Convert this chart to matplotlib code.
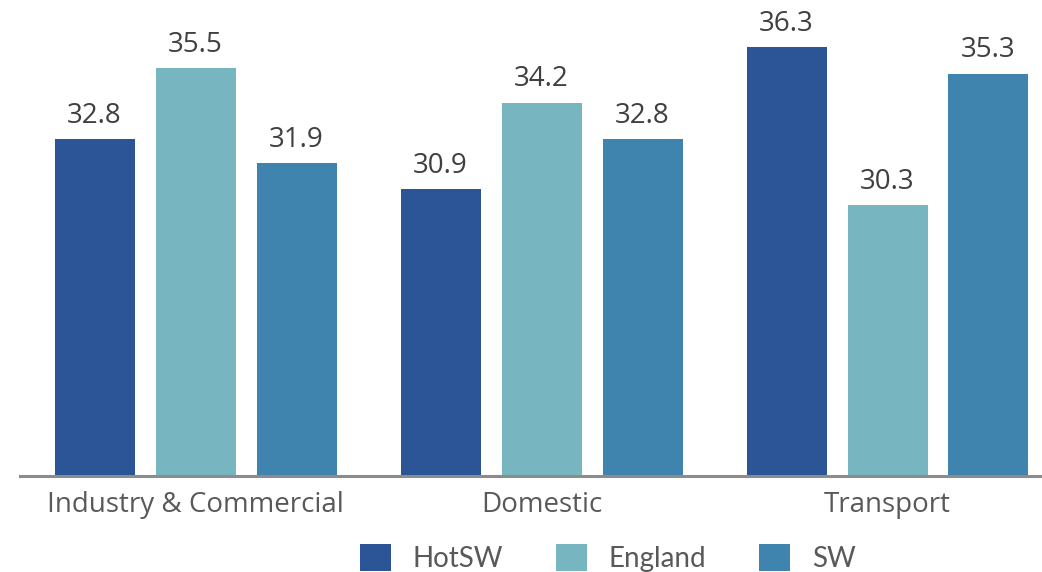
import numpy as np
from matplotlib import pyplot as plt

categories = ['Industry & Commercial', 'Domestic', 'Transport']
series_names = ['HotSW', 'England', 'SW']
hotsw = [32.8, 30.9, 36.3]
england = [35.5, 34.2, 30.3]
sw = [31.9, 32.8, 35.3]
colors = ['#2B5597', '#77B6C0', '#3E84AF']

fig = plt.figure(figsize=(10.42, 5.72), dpi=100)
ax = fig.add_axes([20 / 1042, 96 / 572, 1 - 20 / 1042, 1 - 96 / 572])

x = np.arange(len(categories))
step = 101 / 346
width = 80 / 346

for k, (name, vals) in enumerate(zip(series_names, [hotsw, england, sw])):
    pos = x + (k - 1) * step
    bars = ax.bar(pos, vals, width, color=colors[k], label=name, zorder=2)
    for b, v in zip(bars, vals):
        ax.text(b.get_x() + b.get_width() / 2, v + 0.35, f'{v:.1f}',
                ha='center', va='bottom', fontsize=20, color='#404040',
                family='Open Sans')

ax.set_xlim(-175.5 / 346, (1042 - 195.5) / 346)
ax.set_ylim(20, 38.1)

# Only the bottom axis line is visible
for side in ['top', 'right', 'left']:
    ax.spines[side].set_visible(False)
ax.spines['bottom'].set_color('#8C8C8C')
ax.spines['bottom'].set_linewidth(2.2)
ax.set_yticks([])
ax.set_xticks(x)
ax.set_xticklabels(categories, fontsize=20, color='#595959', family='Open Sans')
ax.tick_params(axis='x', length=0, pad=11)

fig.legend(loc='center', bbox_to_anchor=(608 / 1042, 14 / 572), ncol=3,
           frameon=False, prop={'family': 'Lato', 'size': 20},
           handlelength=1.1, handleheight=1.1, handletextpad=0.8,
           columnspacing=1.9, labelcolor='#595959')

fig.savefig('out.png', dpi=100)
